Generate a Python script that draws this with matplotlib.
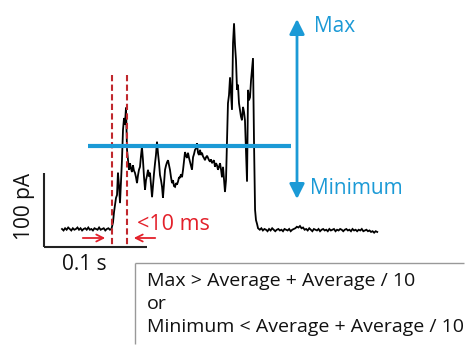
import matplotlib
matplotlib.use("Agg")
import matplotlib.pyplot as plt

# ---- data: current trace (time in ms, current in pA) ----
# pre-event baseline
pre_time_ms = [17.5, 19.0, 20.5, 22.0, 23.5, 25.0, 26.5, 28.0, 29.5, 31.0, 32.5,
               34.0, 35.5, 37.0, 38.5, 40.0, 41.5, 43.0, 44.5, 46.0, 47.5, 49.0,
               50.5, 52.0, 53.5, 55.0, 56.5, 58.0, 59.5, 61.0, 62.5, 64.0, 65.5]
pre_current_pA = [0, -2, 1, -1, 2, 0, -2, 1, -1, 0, 2, -1, 1, -2, 0, 1, -1,
                  2, -1, 0, -2, 1, 0, -1, 2, -1, 0, 1, -2, 0, 1, -1, 0]

# event (opening burst)
event_time_ms = [67.0, 68.0, 68.9, 69.9, 70.9, 71.8, 72.8, 73.8, 74.8, 75.7,
                 76.7, 77.7, 78.6, 79.6, 80.6, 81.6, 82.5, 83.5, 84.4, 85.4,
                 86.4, 87.3, 88.3, 89.3, 90.3, 91.2, 92.2, 93.2, 94.1, 95.1,
                 96.1, 97.1, 98.1, 99.0, 100.0, 101.0, 102.0, 102.9, 103.9, 104.9,
                 105.8, 106.8, 107.8, 108.7, 109.7, 110.7, 111.7, 112.6, 113.6, 114.6,
                 115.5, 116.5, 117.5, 118.5, 119.4, 120.4, 121.4, 122.3, 123.3, 124.3,
                 125.2, 126.2, 127.2, 128.2, 129.1, 130.1, 131.1, 132.0, 133.0, 134.0,
                 135.0, 136.0, 136.9, 137.9, 138.8, 139.8, 140.8, 141.7, 142.7, 143.7,
                 144.7, 145.6, 146.6, 147.6, 148.5, 149.5, 150.5, 151.5, 152.4, 153.4,
                 154.4, 155.3, 156.3, 157.3, 158.3, 159.2, 160.2, 161.2, 162.1, 163.1,
                 164.1, 165.0, 166.0, 167.0, 168.0, 168.9, 169.9, 170.9, 171.9, 172.8,
                 173.8, 174.8, 175.7, 176.7, 177.7, 178.6, 179.6, 180.6, 181.6, 182.5,
                 183.5, 184.5, 185.4, 186.4, 187.4, 188.3, 189.3, 190.3, 191.2, 192.2,
                 193.2, 194.2, 195.1, 196.1, 197.1, 198.1, 199.0, 200.0, 201.0, 201.9,
                 202.9, 203.9, 204.9, 205.8, 206.8, 207.8]
event_current_pA = [9, 23, 32, 42, 46, 76, 59, 35, 66, 93,
                    134, 150, 141, 164, 107, 93, 80, 89, 82, 77,
                    86, 79, 76, 70, 62, 72, 80, 84, 98, 111,
                    93, 70, 53, 66, 72, 80, 71, 76, 60, 43,
                    59, 75, 89, 100, 118, 102, 89, 73, 66, 57,
                    42, 62, 80, 86, 90, 93, 86, 80, 70, 62,
                    66, 58, 57, 62, 60, 64, 70, 69, 74, 70,
                    80, 92, 104, 99, 96, 103, 96, 91, 86, 80,
                    97, 101, 107, 109, 116, 103, 100, 107, 100, 103,
                    98, 96, 93, 97, 99, 96, 93, 91, 94, 89,
                    91, 93, 84, 89, 86, 80, 84, 89, 80, 70,
                    84, 66, 50, 66, 124, 170, 181, 205, 181, 161,
                    251, 278, 249, 228, 188, 195, 170, 161, 152, 147,
                    165, 158, 147, 107, 64, 188, 174, 178, 201, 215,
                    231, 116, 26, 12, 7, 1]

# post-event baseline
post_time_ms = [209.5, 211.0, 212.5, 214.0, 215.5, 217.0, 218.5, 220.0, 221.5,
                223.0, 224.5, 226.0, 227.5, 229.0, 230.5, 232.0, 233.5, 235.0,
                236.5, 238.0, 239.5, 241.0, 242.5, 244.0, 245.5, 247.0, 248.5,
                250.0, 251.5, 253.0, 254.5, 256.0, 257.5, 259.0, 260.5, 262.0,
                263.5, 265.0, 266.5, 268.0, 269.5, 271.0, 272.5, 274.0, 275.5,
                277.0, 278.5, 280.0, 281.5, 283.0, 284.5, 286.0, 287.5, 289.0,
                290.5, 292.0, 293.5, 295.0, 296.5, 298.0, 299.5, 301.0, 302.5,
                304.0, 305.5, 307.0, 308.5, 310.0, 311.5, 313.0, 314.5, 316.0,
                317.5, 319.0, 320.5, 322.0, 323.5]
post_current_pA = [-1, 1, -2, 0, -1, -3, 0, -2, 1, -1, -3, -1, 0, -2, -1, -3,
                    0, -1, -2, 0, -3, -1, 0, 1, 3, 2, 4, 1, 2, -1, 0, -2, 1,
                    -1, -3, 0, -1, -2, 0, -3, -1, 0, -2, -1, -3, 0, -2, -1, 0,
                    -3, -1, -2, 0, -1, -3, -1, 0, -2, -1, -3, 0, -2, -1, -3,
                    -1, -2, 0, -3, -2, -1, -3, -2, -4, -3, -5, -3, -4]

scale_time_ms = 100      # 0.1 s
scale_current_pA = 100   # 100 pA
scale_labels = ["0.1 s", "100 pA"]
criteria_lines = ["Max > Average + Average / 10", "or",
                  "Minimum < Average + Average / 10"]
range_labels = ["Max", "Minimum"]
onset_label = "<10 ms"

time_ms = pre_time_ms + event_time_ms + post_time_ms
current_pA = pre_current_pA + event_current_pA + post_current_pA

plt.rcParams['font.family'] = ['Open Sans', 'DejaVu Sans']

W, H = 465, 345
fig = plt.figure(figsize=(W / 100, H / 100), dpi=100)

# data axes (ms, pA)
ax = fig.add_axes([0, 0, 1, 1])
ax.set_xlim(-42.7, 408.7)
ax.set_ylim(-156.8, 309.5)
ax.axis('off')

ax.plot(time_ms, current_pA, color='black', lw=1.3, zorder=3, solid_joinstyle='miter')

# scale bars
y0 = -24.3
ax.plot([0, scale_time_ms], [y0, y0], color='#222222', lw=1.5, solid_capstyle='butt')
ax.plot([0, 0], [y0, y0 + scale_current_pA], color='#222222', lw=1.5, solid_capstyle='butt')

# overlay axes in pixel space for annotations
ov = fig.add_axes([0, 0, 1, 1])
ov.set_xlim(0, W)
ov.set_ylim(H, 0)
ov.axis('off')
ov.patch.set_alpha(0)

ov.text(84, 264, scale_labels[0], ha='center', va='center', fontsize=15, color='#111111')
ov.text(24, 206, scale_labels[1], ha='center', va='center', fontsize=15,
        rotation=90, color='#111111')

# red dashed lines and arrows
red_dark = '#c0282d'
red = '#e3202a'
for x in (112, 127):
    ov.plot([x, x], [75, 245], color=red_dark, lw=1.5, dashes=(3, 1.6), zorder=4)
ov.annotate('', xy=(108, 238), xytext=(80, 238),
            arrowprops=dict(arrowstyle='->,head_length=0.5,head_width=0.25', color=red, lw=1.3))
ov.annotate('', xy=(131, 238), xytext=(158, 238),
            arrowprops=dict(arrowstyle='->,head_length=0.5,head_width=0.25', color=red, lw=1.3))
ov.text(137, 224, onset_label, ha='left', va='center', fontsize=15.5, color=red)

# blue average line and range arrow
blue = '#1b9ad6'
ov.plot([88, 291], [146, 146], color=blue, lw=3, solid_capstyle='butt', zorder=5)
ov.annotate('', xy=(297, 19), xytext=(297, 199),
            arrowprops=dict(arrowstyle='<|-|>,head_length=0.9,head_width=0.45',
                            color=blue, lw=2, shrinkA=0, shrinkB=0))
ov.text(314, 27, range_labels[0], ha='left', va='center', fontsize=15, color=blue)
ov.text(310, 188, range_labels[1], ha='left', va='center', fontsize=15, color=blue)

# criteria box (only top and left edges visible, as in the figure)
ov.plot([135, W - 1.5], [263, 263], color='#999999', lw=1, solid_capstyle='butt')
ov.plot([135, 135], [263, H - 1.5], color='#999999', lw=1, solid_capstyle='butt')
for i, line in enumerate(criteria_lines):
    ov.text(147, 281 + 23 * i, line, ha='left', va='center', fontsize=14, color='#111111')

fig.savefig('out.png', dpi=100)
